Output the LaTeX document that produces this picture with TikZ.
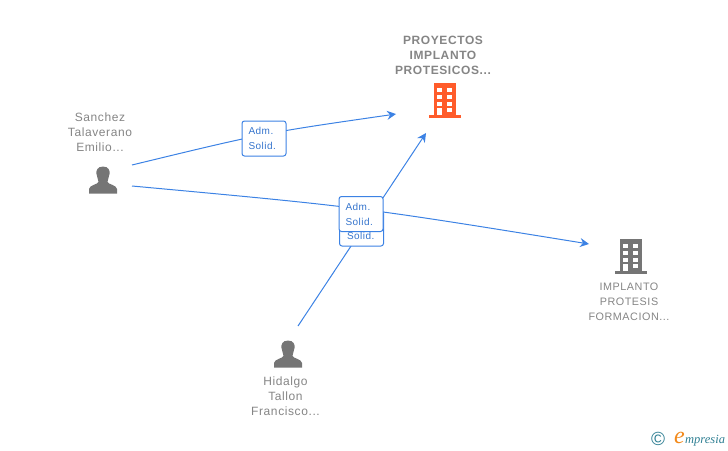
\documentclass[tikz,border=0pt]{standalone}
\usepackage{fontspec}
\setmainfont[LetterSpace=5]{Liberation Sans}
\newfontfamily\logofont{Liberation Serif}
\usetikzlibrary{arrows.meta,positioning}
\definecolor{linea}{HTML}{3C82E4}
\definecolor{gristexto}{HTML}{858585}
\definecolor{grisicono}{HTML}{757575}
\definecolor{naranja}{HTML}{FF5C2B}
\definecolor{logoazul}{HTML}{2F7F93}
\definecolor{logonaranja}{HTML}{F28A1C}
\newcommand{\bajar}[2]{\raisebox{-#1pt}{#2}}
\tikzset{
    flecha/.style={linea,line width=1pt,-{Stealth[length=9pt,width=9pt,inset=3pt]}},
    etiqueta/.style={gristexto,align=center,inner sep=0pt,font=\fontsize{12}{15}\selectfont},
    caja/.style={draw=linea,fill=white,rounded corners=2.5pt,line width=1pt,minimum width=44pt,minimum height=35pt,
        inner sep=0pt,text width=31pt,align=left,text=linea!90!black,font=\fontsize{10}{15}\selectfont},
    persona/.pic={
        \fill [grisicono] (0,-13.5) .. controls (-6,-13.5) and (-7,-9) .. (-6.5,-6)
            .. controls (-6,-2.5) and (-4.5,0) .. (-4.5,2)
            .. controls (-5.5,4.5) and (-13.5,5) .. (-14,9) -- (-14,13.5) -- (14,13.5) -- (14,9)
            .. controls (13.5,5) and (5.5,4.5) .. (4.5,2)
            .. controls (4.5,0) and (6,-2.5) .. (6.5,-6)
            .. controls (7,-9) and (6,-13.5) .. (0,-13.5) -- cycle;
    },
    edificio/.pic={
        \fill [pic actions] (-11,-17) rectangle (11,15);
        \fill [pic actions] (-16,14.5) rectangle (16,18);
        \foreach \fila in {-12.5,-5,1.5} {
            \fill [white] (-7.7,\fila) rectangle (-3,\fila+4.2);
            \fill [white] (2.3,\fila) rectangle (7.3,\fila+4.2);
        }
        \fill [white] (-7.7,7.5) rectangle (-3,15);
        \fill [white] (2.3,7.5) rectangle (7.3,12);
    }
}

\begin{document}
\begin{tikzpicture}[x=1pt,y=-1pt]
    \useasboundingbox (0,0) rectangle (728,450);

    % free ends of the connectors
    \coordinate (S1) at (132,165);
    \coordinate (S2) at (132,186);
    \coordinate (H) at (298,326);
    \coordinate (P1) at (396,114);
    \coordinate (P2) at (426,133);
    \coordinate (I) at (589,244);

    % connectors
    \draw [flecha] (S1) .. controls (264,133) .. (P1);
    \draw [flecha] (S2) .. controls (360,207) .. (I);
    \draw [flecha] (H) -- (P2);

    % boxes on the lines
    \node [caja] (solidH) at (361.5,228.5) {\mbox{}\\\hspace{1pt}\bajar{8}{Solid.}};
    \node [caja] (admS) at (264,138.5) {\bajar{1}{Adm.}\\\bajar{1}{Solid.}};
    \node [caja] (admP) at (361,214) {\bajar{1.5}{Adm.}\\\bajar{1.5}{Solid.}};

    % icons
    \pic at (103,180) {persona};
    \pic at (288,354) {persona};
    \pic [fill=naranja] at (445,100) {edificio};
    \pic [fill=grisicono] at (631,256) {edificio};

    % texts
    \node [etiqueta] (sanchez) at (100,132.5) {Sanchez\\Talaverano\\Emilio...};
    \node [etiqueta] (hidalgo) at (285.5,396) {Hidalgo\\Tallon\\Francisco...};
    \node [etiqueta,font=\fontsize{12}{15}\selectfont\bfseries] (proyectos) at (443,55) {PROYECTOS\\IMPLANTO\\PROTESICOS...};
    \node [etiqueta,font=\fontsize{10.8}{15}\selectfont] (implanto) at (629,301.5) {IMPLANTO\\PROTESIS\\FORMACION...};

    % logo
    \node [logoazul,inner sep=0pt,font=\fontsize{19}{19}\selectfont] (copy) at (658,439) {©};
    \node [logoazul,inner sep=0pt,anchor=base west,font=\logofont\itshape\fontsize{12.5}{15}\selectfont] (empresia) at (685,443.5) {mpresia};
    \node [logonaranja,inner sep=0pt,anchor=base east,font=\logofont\itshape\fontsize{24}{24}\selectfont] (letrae) at (685,443.5) {e};
\end{tikzpicture}
\end{document}
